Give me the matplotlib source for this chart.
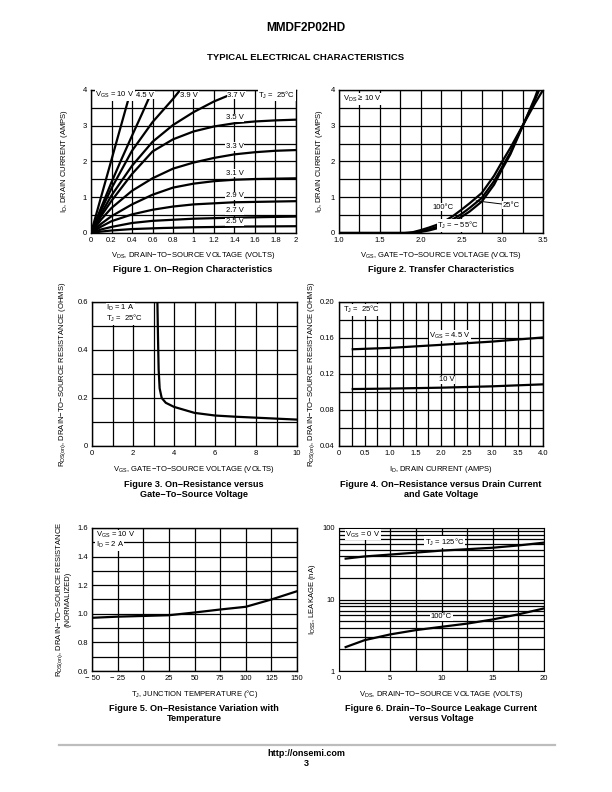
import numpy as np
import matplotlib.pyplot as plt
from matplotlib.ticker import MultipleLocator, NullFormatter, LogLocator

plt.rcParams['font.family'] = ['Liberation Sans Narrow', 'Liberation Sans', 'DejaVu Sans']
plt.rcParams['mathtext.default'] = 'regular'

# ---- Figure 1: on-region characteristics (I_D vs V_DS per V_GS) ----
f1_curves = {
    "10 V":  ([0, 0.2, 0.39], [0, 2.05, 4.0]),
    "4.5 V": ([0, 0.1, 0.2, 0.3, 0.4, 0.5, 0.6], [0, 0.72, 1.42, 2.08, 2.72, 3.35, 4.0]),
    "3.9 V": ([0, 0.1, 0.2, 0.4, 0.6, 0.8, 0.87], [0, 0.65, 1.25, 2.3, 3.1, 3.75, 4.0]),
    "3.7 V": ([0, 0.1, 0.2, 0.4, 0.6, 0.8, 1.0, 1.2, 1.47], [0, 0.55, 1.05, 1.88, 2.55, 3.02, 3.38, 3.68, 4.0]),
    "3.5 V": ([0, 0.1, 0.2, 0.4, 0.6, 0.8, 1.0, 1.2, 1.4, 1.6, 1.8, 2.0], [0, 0.48, 0.9, 1.65, 2.28, 2.62, 2.84, 2.98, 3.07, 3.12, 3.15, 3.17]),
    "3.3 V": ([0, 0.1, 0.2, 0.4, 0.6, 0.8, 1.0, 1.2, 1.4, 1.6, 1.8, 2.0], [0, 0.38, 0.7, 1.18, 1.53, 1.8, 1.97, 2.1, 2.2, 2.26, 2.3, 2.32]),
    "3.1 V": ([0, 0.1, 0.2, 0.4, 0.6, 0.8, 1.0, 1.2, 1.4, 1.6, 2.0], [0, 0.26, 0.47, 0.8, 1.07, 1.27, 1.38, 1.45, 1.49, 1.51, 1.53]),
    "2.9 V": ([0, 0.1, 0.2, 0.4, 0.6, 0.8, 1.0, 1.4, 2.0], [0, 0.18, 0.33, 0.52, 0.65, 0.74, 0.8, 0.86, 0.89]),
    "2.7 V": ([0, 0.1, 0.2, 0.4, 0.6, 1.0, 1.4, 2.0], [0, 0.1, 0.17, 0.28, 0.34, 0.4, 0.43, 0.46]),
    "2.5 V": ([0, 0.1, 0.2, 0.4, 0.7, 1.0, 1.5, 2.0], [0, 0.04, 0.07, 0.11, 0.14, 0.16, 0.18, 0.19]),
}
f1_labels = ["3.5 V", "3.3 V", "3.1 V", "2.9 V", "2.7 V", "2.5 V"]
f1_label_y = [3.22, 2.42, 1.67, 1.04, 0.63, 0.32]

# ---- Figure 2: transfer characteristics ----
f2_vgs = [1.0, 1.5, 1.8, 1.85, 1.9, 2.0, 2.1, 2.2, 2.3, 2.4, 2.5, 2.6, 2.75, 2.9, 3.0, 3.1, 3.25, 3.4, 3.5]
f2_100 = [0, 0, 0, 0.01, 0.02, 0.08, 0.15, 0.23, 0.34, 0.48, 0.65, 0.83, 1.12, 1.6, 2.0, 2.38, 3.0, 3.62, 4.0]
f2_25 = [0, 0, 0, 0, 0.01, 0.05, 0.10, 0.17, 0.27, 0.39, 0.53, 0.70, 0.98, 1.45, 1.85, 2.25, 3.0, 3.72, 4.25]
f2_m55 = [0, 0, 0, 0, 0, 0.03, 0.07, 0.13, 0.21, 0.32, 0.45, 0.60, 0.88, 1.35, 1.79, 2.2, 2.98, 3.78, 4.4]

# ---- Figure 3: R_DS(on) vs V_GS ----
f3_vgs = [3.19, 3.22, 3.25, 3.3, 3.4, 3.6, 4.0, 5.0, 6.0, 7.0, 8.0, 9.0, 10.0]
f3_r = [0.6, 0.45, 0.32, 0.24, 0.2, 0.18, 0.163, 0.138, 0.127, 0.122, 0.118, 0.114, 0.11]

# ---- Figure 4: R_DS(on) vs I_D ----
f4_id = [0.27, 1.0, 2.0, 3.0, 4.0]
f4_r45 = [0.1475, 0.149, 0.1524, 0.156, 0.1606]
f4_r10 = [0.1033, 0.1038, 0.1048, 0.1063, 0.1085]

# ---- Figure 5: normalized R_DS(on) vs T_J ----
f5_t = [-50, -25, 0, 25, 50, 75, 100, 125, 150]
f5_r = [0.972, 0.98, 0.985, 0.99, 1.009, 1.03, 1.049, 1.10, 1.158]

# ---- Figure 6: I_DSS leakage vs V_DS ----
f6_vds = [0.65, 2.5, 5.0, 7.5, 10.0, 12.5, 15.0, 17.5, 20.0]
f6_125 = [37.3, 40.0, 42.5, 45.3, 48.3, 50.5, 53.0, 57.0, 62.4]
f6_100 = [2.16, 2.7, 3.25, 3.73, 4.15, 4.6, 5.26, 6.2, 7.5]

W, H = 612, 792
fig = plt.figure(figsize=(W / 100, H / 100), dpi=100)

TICK_FS = 5.5
LAB_FS = 5.5
CAP_FS = 6.6
LW = 1.6
BG = dict(facecolor='white', edgecolor='none', pad=0.4)


def box(x0, y0, x1, y1):
    return fig.add_axes([x0 / W, 1 - y1 / H, (x1 - x0) / W, (y1 - y0) / H])


def style(ax, xgrid, ygrid):
    ax.xaxis.set_minor_locator(MultipleLocator(xgrid))
    ax.yaxis.set_minor_locator(MultipleLocator(ygrid))
    ax.grid(which='both', color='black', linewidth=0.9)
    ax.set_axisbelow(True)
    ax.tick_params(which='both', length=0, labelsize=TICK_FS, pad=3)
    for s in ax.spines.values():
        s.set_linewidth(1.0)


def caption(xc, y, text):
    fig.text(xc / W, 1 - y / H, text, ha='center', va='center',
             fontsize=CAP_FS, fontweight='bold', family='Liberation Sans',
             linespacing=1.25)


# Figure 1
ax1 = box(91, 90, 296, 233)
for name, (xs, ys) in f1_curves.items():
    ax1.plot(xs, ys, color='black', lw=LW, solid_capstyle='butt')
ax1.set_xlim(0, 2)
ax1.set_ylim(0, 4)
ax1.set_xticks(np.arange(0, 2.01, 0.2), ["0", "0.2", "0.4", "0.6", "0.8", "1", "1.2", "1.4", "1.6", "1.8", "2"])
ax1.set_yticks([0, 1, 2, 3, 4], ["0", "1", "2", "3", "4"])
style(ax1, 0.2, 0.5)
ax1.set_xlabel("V$_{DS}$, DRAIN−TO−SOURCE VOLTAGE (VOLTS)", fontsize=LAB_FS, labelpad=4)
ax1.set_ylabel("I$_D$, DRAIN CURRENT (AMPS)", fontsize=LAB_FS, labelpad=9)
ax1.text(0.04, 3.86, "V$_{GS}$ = 10 V", fontsize=TICK_FS, va='center', bbox=BG)
ax1.text(0.44, 3.86, "4.5 V", fontsize=TICK_FS, va='center', bbox=BG)
ax1.text(0.87, 3.86, "3.9 V", fontsize=TICK_FS, va='center', bbox=BG)
ax1.text(1.33, 3.86, "3.7 V", fontsize=TICK_FS, va='center', bbox=BG)
ax1.text(1.63, 3.86, "T$_J$ =  25°C", fontsize=TICK_FS, va='center', bbox=BG)
for lab, yy in zip(f1_labels, f1_label_y):
    ax1.text(1.40, yy, lab, fontsize=TICK_FS, ha='center', va='center', bbox=BG)
caption(193, 270, "Figure 1. On−Region Characteristics")

# Figure 2
ax2 = box(339, 90, 543, 233)
for ys in (f2_100, f2_25, f2_m55):
    ax2.plot(f2_vgs, ys, color='black', lw=LW)
ax2.set_xlim(1.0, 3.5)
ax2.set_ylim(0, 4)
ax2.set_xticks([1.0, 1.5, 2.0, 2.5, 3.0, 3.5], ["1.0", "1.5", "2.0", "2.5", "3.0", "3.5"])
ax2.set_yticks([0, 1, 2, 3, 4], ["0", "1", "2", "3", "4"])
style(ax2, 0.25, 0.5)
ax2.set_xlabel("V$_{GS}$, GATE−TO−SOURCE VOLTAGE (VOLTS)", fontsize=LAB_FS, labelpad=4)
ax2.set_ylabel("I$_D$, DRAIN CURRENT (AMPS)", fontsize=LAB_FS, labelpad=4)
ax2.text(1.05, 3.75, "V$_{DS}$ ≥ 10 V", fontsize=TICK_FS, va='center', bbox=BG)
ax2.text(2.28, 0.72, "100°C", fontsize=TICK_FS, ha='center', va='center', bbox=BG)
ax2.annotate("25°C", xy=(2.68, 0.9), xytext=(3.0, 0.78), fontsize=TICK_FS, va='center',
             bbox=BG, arrowprops=dict(arrowstyle='-', lw=0.7, color='black', shrinkA=0, shrinkB=0))
ax2.text(2.46, 0.21, "T$_J$ = − 55°C", fontsize=TICK_FS, ha='center', va='center', bbox=BG)
caption(441, 270, "Figure 2. Transfer Characteristics")

# Figure 3
ax3 = box(92, 302, 297, 446)
ax3.plot(f3_vgs, f3_r, color='black', lw=LW)
ax3.set_xlim(0, 10)
ax3.set_ylim(0, 0.6)
ax3.set_xticks([0, 2, 4, 6, 8, 10], ["0", "2", "4", "6", "8", "10"])
ax3.set_yticks([0, 0.2, 0.4, 0.6], ["0", "0.2", "0.4", "0.6"])
style(ax3, 1, 0.1)
ax3.set_xlabel("V$_{GS}$, GATE−TO−SOURCE VOLTAGE (VOLTS)", fontsize=LAB_FS, labelpad=5)
ax3.set_ylabel("R$_{DS(on)}$, DRAIN−TO−SOURCE RESISTANCE (OHMS)", fontsize=LAB_FS, labelpad=7)
ax3.text(0.7, 0.574, "I$_D$ = 1 A", fontsize=TICK_FS, va='center', bbox=BG)
ax3.text(0.7, 0.530, "T$_J$ =  25°C", fontsize=TICK_FS, va='center', bbox=BG)
caption(194, 489.5, "Figure 3. On−Resistance versus\nGate−To−Source Voltage")

# Figure 4
ax4 = box(339, 302, 543, 446)
ax4.plot(f4_id, f4_r45, color='black', lw=LW)
ax4.plot(f4_id, f4_r10, color='black', lw=LW)
ax4.set_xlim(0, 4.0)
ax4.set_ylim(0.04, 0.20)
ax4.set_xticks(np.arange(0, 4.01, 0.5), ["0", "0.5", "1.0", "1.5", "2.0", "2.5", "3.0", "3.5", "4.0"])
ax4.set_yticks([0.04, 0.08, 0.12, 0.16, 0.20], ["0.04", "0.08", "0.12", "0.16", "0.20"])
style(ax4, 0.25, 0.02)
ax4.set_xlabel("I$_D$, DRAIN CURRENT (AMPS)", fontsize=LAB_FS, labelpad=5)
ax4.set_ylabel("R$_{DS(on)}$, DRAIN−TO−SOURCE RESISTANCE (OHMS)", fontsize=LAB_FS, labelpad=2)
ax4.text(0.08, 0.1914, "T$_J$ =  25°C", fontsize=TICK_FS, va='center', bbox=BG)
ax4.text(2.18, 0.1625, "V$_{GS}$ = 4.5 V", fontsize=TICK_FS, ha='center', va='center', bbox=BG)
ax4.text(2.12, 0.1135, "10 V", fontsize=TICK_FS, ha='center', va='center', bbox=BG)
caption(441, 489.5, "Figure 4. On−Resistance versus Drain Current\nand Gate Voltage")

# Figure 5
ax5 = box(92, 528, 297, 671)
ax5.plot(f5_t, f5_r, color='black', lw=LW)
ax5.set_xlim(-50, 150)
ax5.set_ylim(0.6, 1.6)
ax5.set_xticks(np.arange(-50, 151, 25), ["− 50", "− 25", "0", "25", "50", "75", "100", "125", "150"])
ax5.set_yticks([0.6, 0.8, 1.0, 1.2, 1.4, 1.6], ["0.6", "0.8", "1.0", "1.2", "1.4", "1.6"])
style(ax5, 25, 0.1)
ax5.set_xlabel("T$_J$, JUNCTION TEMPERATURE (°C)", fontsize=LAB_FS, labelpad=4)
ax5.set_ylabel("R$_{DS(on)}$, DRAIN−TO−SOURCE RESISTANCE\n(NORMALIZED)", fontsize=LAB_FS,
               labelpad=4, linespacing=0.95)
ax5.text(-46.5, 1.549, "V$_{GS}$ = 10 V", fontsize=TICK_FS, va='center', bbox=BG)
ax5.text(-46.5, 1.479, "I$_D$ = 2 A", fontsize=TICK_FS, va='center', bbox=BG)
caption(194, 713.5, "Figure 5. On−Resistance Variation with\nTemperature")

# Figure 6
ax6 = box(339, 528, 544, 671)
ax6.plot(f6_vds, f6_125, color='black', lw=LW)
ax6.plot(f6_vds, f6_100, color='black', lw=LW)
ax6.set_yscale('log')
ax6.set_xlim(0, 20)
ax6.set_ylim(1, 100)
ax6.set_xticks([0, 5, 10, 15, 20], ["0", "5", "10", "15", "20"])
ax6.set_yticks([1, 10, 100], ["1", "10", "100"])
ax6.xaxis.set_minor_locator(MultipleLocator(2.5))
ax6.yaxis.set_minor_locator(LogLocator(base=10, subs=np.arange(2, 10)))
ax6.yaxis.set_minor_formatter(NullFormatter())
ax6.grid(which='both', color='black', linewidth=0.9)
ax6.set_axisbelow(True)
ax6.tick_params(which='both', length=0, labelsize=TICK_FS, pad=3)
ax6.set_xlabel("V$_{DS}$, DRAIN−TO−SOURCE VOLTAGE (VOLTS)", fontsize=LAB_FS, labelpad=5)
ax6.set_ylabel("I$_{DSS}$, LEAKAGE (nA)", fontsize=LAB_FS, labelpad=3)
ax6.text(0.6, 80.7, "V$_{GS}$ = 0 V", fontsize=TICK_FS, va='center', bbox=BG)
ax6.text(10.3, 63.8, "T$_J$ = 125°C", fontsize=TICK_FS, ha='center', va='center', bbox=BG)
ax6.text(10.0, 5.73, "100°C", fontsize=TICK_FS, ha='center', va='center', bbox=BG)
caption(441, 713.5, "Figure 6. Drain−To−Source Leakage Current\nversus Voltage")

# page header / footer
fig.text(306 / W, 1 - 28 / H, "MMDF2P02HD", ha='center', va='center', fontsize=8.5,
         fontweight='bold', family='Liberation Sans')
fig.text(306 / W, 1 - 58 / H, "TYPICAL ELECTRICAL CHARACTERISTICS", ha='center', va='center',
         fontsize=6.8, fontweight='bold', family='Liberation Sans')
fig.add_artist(plt.Line2D([59 / W, 555 / W], [1 - 745 / H, 1 - 745 / H], color='#bdbdbd', lw=1.6))
fig.text(306 / W, 1 - 753 / H, "http://onsemi.com", ha='center', va='center', fontsize=6.5,
         fontweight='bold', family='Liberation Sans')
fig.text(306 / W, 1 - 764 / H, "3", ha='center', va='center', fontsize=6.5,
         fontweight='bold', family='Liberation Sans')

fig.savefig("out.png", dpi=100)
